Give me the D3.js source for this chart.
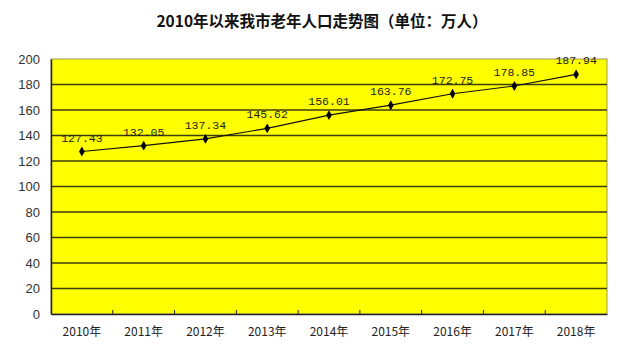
<!DOCTYPE html>
<html>
  <head>
    <meta charset="utf-8">
    <title>2010年以来我市老年人口走势图</title>
    <script src="https://d3js.org/d3.v7.min.js"></script>
    <style>
      body{ margin:0; background:#fff; }
    </style>
  </head>
  <body>
    <svg></svg>
    <script>
      // data
      var years = ["2010年","2011年","2012年","2013年","2014年","2015年","2016年","2017年","2018年"];
      var population = [127.43, 132.05, 137.34, 145.62, 156.01, 163.76, 172.75, 178.85, 187.94];
      var yTicks = [0, 20, 40, 60, 80, 100, 120, 140, 160, 180, 200];

      // layout
      var svgWidth = 640, svgHeight = 351,
          margin = {top: 59, right: 33, bottom: 37, left: 51},
          width = svgWidth - margin.left - margin.right,
          height = svgHeight - margin.top - margin.bottom;

      var svg = d3.select("svg").attr("width", svgWidth).attr("height", svgHeight);

      svg.append("text")
        .attr("x", 322).attr("y", 27)
        .attr("text-anchor", "middle")
        .style("font-family", "'Noto Sans CJK SC'")
        .style("font-weight", "bold")
        .style("font-size", "15.5px")
        .style("fill", "#111")
        .text("2010年以来我市老年人口走势图（单位：万人）");

      var g = svg.append("g").attr("transform", "translate(" + [margin.left, margin.top] + ")");

      var x = d3.scaleBand().domain(years).range([0, width]);
      var y = d3.scaleLinear().domain([0, 200]).range([height, 0]);

      g.append("rect")
        .attr("width", width).attr("height", height)
        .style("fill", "#FFFF00")
        .style("stroke", "#9a9a60").style("stroke-width", 1);

      // grid
      g.selectAll(".grid").data(yTicks.filter(function(d){ return d > 0 && d < 200; }))
        .enter().append("line")
          .attr("x1", 0).attr("x2", width)
          .attr("y1", function(d){ return y(d); }).attr("y2", function(d){ return y(d); })
          .style("stroke", "#3d3d12").style("stroke-width", 1.5);

      // y axis
      var yAxis = g.append("g").call(d3.axisLeft(y).tickValues(yTicks).tickSize(0).tickPadding(11));
      yAxis.select(".domain").style("stroke", "#222").style("stroke-width", 1.5);
      yAxis.selectAll("text")
        .style("font-family", "Arial, 'Liberation Sans'")
        .style("font-size", "13px").style("fill", "#333");

      // x axis
      var xAxis = g.append("g").attr("transform", "translate(0," + height + ")")
        .call(d3.axisBottom(x).tickSize(0).tickPadding(13));
      xAxis.select(".domain").style("stroke", "#222").style("stroke-width", 1.5);
      xAxis.selectAll("text")
        .style("font-family", "'Noto Sans CJK SC'")
        .style("font-size", "12px").style("fill", "#222");
      // ticks between categories
      g.selectAll(".xtick").data(years.slice(1))
        .enter().append("line")
          .attr("x1", function(d){ return x(d); }).attr("x2", function(d){ return x(d); })
          .attr("y1", height).attr("y2", height - 4)
          .style("stroke", "#222").style("stroke-width", 1);

      // line
      var px = function(d, i){ return x(years[i]) + x.bandwidth() / 2; };
      var line = d3.line().x(px).y(function(d){ return y(d); });
      g.append("path").datum(population)
        .attr("d", line)
        .style("fill", "none").style("stroke", "#111").style("stroke-width", 1.2);

      g.selectAll(".pt").data(population)
        .enter().append("path")
          .attr("d", d3.symbol().type(d3.symbolDiamond).size(28))
          .attr("transform", function(d, i){ return "translate(" + [px(d, i), y(d)] + ")"; })
          .style("fill", "#000");

      g.selectAll(".lbl").data(population)
        .enter().append("text")
          .attr("x", px).attr("y", function(d){ return y(d) - 10; })
          .attr("text-anchor", "middle")
          .style("font-family", "'Liberation Mono', monospace")
          .style("font-size", "11.5px").style("fill", "#222")
          .text(function(d){ return d.toFixed(2); });
    </script>
  </body>
</html>
